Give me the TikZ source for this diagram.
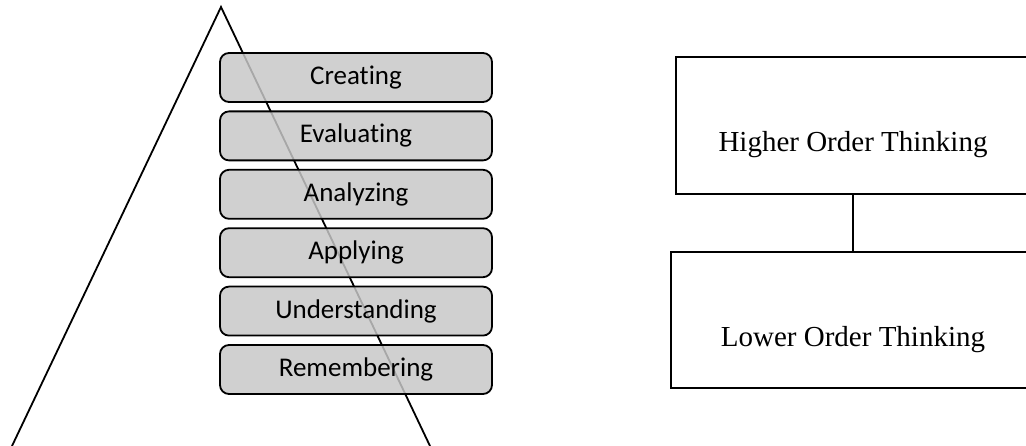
\documentclass[tikz,border=0pt]{standalone}
\usepackage{fontspec}
\setmainfont{Liberation Serif}
\setsansfont{Carlito}[Ligatures=NoCommon]
\usetikzlibrary{positioning}

\definecolor{levelgray}{RGB}{199,199,199}

\begin{document}
\begin{tikzpicture}[x=1pt,y=1pt,node distance=58.4pt,on grid,
	level/.style={draw,line width=1.8pt,rounded corners=9pt,fill=levelgray,fill opacity=0.84,text opacity=1,
		minimum width=272pt,minimum height=49pt,inner sep=0pt,font=\sffamily\fontsize{27}{31}\selectfont},
	order/.style={draw,line width=1.6pt,inner sep=0pt,text height=60pt,text depth=7pt,font=\fontsize{29}{34}\selectfont}]
	\clip (0,0) rectangle (1026,446);
	\coordinate (apex) at (221,439);
	\coordinate (lfoot) at (12,0);
	\coordinate (rfoot) at (430,0);
	\draw[line width=1.8pt] (lfoot) -- (apex) -- (rfoot);
	\node[level] (c) at (356,368.5) {Creating};
	\node[level,below=of c] (e) {Evaluating};
	\node[level,below=of e] (an) {Analyzing};
	\node[level,below=of an] (ap) {Applying};
	\node[level,below=of ap] (u) {Understanding};
	\node[level,below=of u] (r) {Remembering};
	\node[order,minimum width=354pt,minimum height=137pt] (hot) at (853,320.5) {Higher Order Thinking};
	\node[order,minimum width=364pt,minimum height=136pt] (lot) at (853,126) {Lower Order Thinking};
	\draw[line width=1.6pt] (hot) -- (lot);
\end{tikzpicture}
\end{document}
